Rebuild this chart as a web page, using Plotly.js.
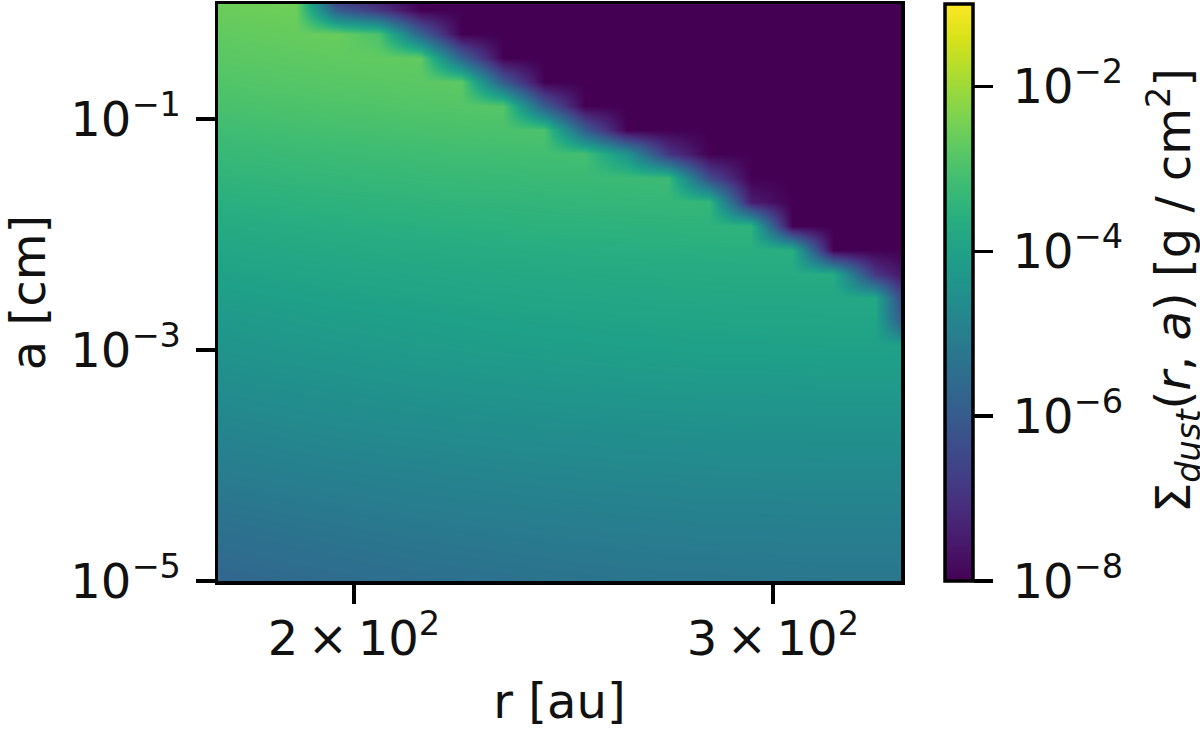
<!DOCTYPE html>
<html><head><meta charset="utf-8">
<script src="https://cdn.plot.ly/plotly-3.0.1.min.js"></script>
<style>html,body{margin:0;padding:0;background:#fff}</style></head>
<body><div id="chart" style="width:1200px;height:731px"></div>
<script>
const radiusAu=[174.5,181.6,189.1,196.8,204.9,213.2,221.8,231.0,240.4,250.1,260.5,271.0,282.0,293.7,305.6,317.9,331.1,344.6];
const grainCm=[8.95e-6,1.445e-5,2.33e-5,3.77e-5,6.08e-5,9.82e-5,1.585e-4,2.56e-4,4.13e-4,6.67e-4,1.076e-3,1.738e-3,2.805e-3,4.53e-3,7.31e-3,1.18e-2,1.905e-2,3.08e-2,4.97e-2,8.02e-2,0.1294,0.209,0.337,0.545,0.879,1.419];
const X=-8; // bottom of the colour range
// log10 of surface density, one row per grain size (small to large)
const logSigma=[
[-5.74,-5.68,-5.63,-5.58,-5.53,-5.49,-5.45,-5.42,-5.39,-5.37,-5.34,-5.33,-5.31,-5.30,-5.29,-5.28,-5.28,-5.28],
[-5.60,-5.55,-5.49,-5.45,-5.40,-5.36,-5.33,-5.30,-5.27,-5.24,-5.22,-5.20,-5.19,-5.18,-5.17,-5.16,-5.16,-5.16],
[-5.47,-5.42,-5.37,-5.32,-5.28,-5.24,-5.21,-5.18,-5.15,-5.13,-5.11,-5.09,-5.08,-5.07,-5.06,-5.05,-5.05,-5.05],
[-5.33,-5.28,-5.23,-5.19,-5.15,-5.11,-5.08,-5.05,-5.03,-5.01,-4.99,-4.97,-4.95,-4.95,-4.94,-4.93,-4.93,-4.93],
[-5.19,-5.14,-5.10,-5.06,-5.02,-4.98,-4.95,-4.93,-4.90,-4.88,-4.86,-4.85,-4.83,-4.83,-4.82,-4.81,-4.81,-4.81],
[-5.05,-5.01,-4.96,-4.92,-4.89,-4.86,-4.83,-4.80,-4.78,-4.76,-4.74,-4.73,-4.71,-4.70,-4.70,-4.69,-4.69,-4.69],
[-4.92,-4.88,-4.83,-4.79,-4.76,-4.73,-4.70,-4.67,-4.65,-4.63,-4.61,-4.60,-4.58,-4.57,-4.57,-4.56,-4.56,-4.56],
[-4.79,-4.75,-4.70,-4.66,-4.62,-4.59,-4.56,-4.53,-4.51,-4.49,-4.47,-4.46,-4.44,-4.43,-4.43,-4.42,-4.42,-4.42],
[-4.66,-4.61,-4.57,-4.53,-4.49,-4.45,-4.42,-4.40,-4.37,-4.35,-4.33,-4.32,-4.30,-4.30,-4.29,-4.28,-4.28,-4.28],
[-4.53,-4.48,-4.44,-4.39,-4.35,-4.32,-4.29,-4.26,-4.24,-4.21,-4.19,-4.18,-4.16,-4.16,-4.15,-4.14,-4.14,-4.14],
[-4.40,-4.35,-4.30,-4.26,-4.22,-4.18,-4.15,-4.12,-4.10,-4.08,-4.06,-4.04,-4.02,-4.02,-4.01,-4.00,-4.00,-4.00],
[-4.27,-4.23,-4.18,-4.14,-4.11,-4.08,-4.05,-4.02,-4.00,-3.98,-3.96,-3.95,-3.93,-3.92,-3.92,-3.91,-3.91,-7.00],
[-4.13,-4.09,-4.05,-4.01,-3.98,-3.95,-3.93,-3.90,-3.88,-3.86,-3.85,-3.83,-3.82,-3.81,-3.81,-3.80,-3.80,X],
[-4.00,-3.96,-3.93,-3.89,-3.86,-3.84,-3.81,-3.79,-3.77,-3.76,-3.74,-3.73,-3.72,-3.71,-3.71,-3.70,-6.90,X],
[-3.86,-3.83,-3.79,-3.76,-3.73,-3.71,-3.69,-3.67,-3.65,-3.63,-3.62,-3.61,-3.60,-3.59,-3.59,X,X,X],
[-3.72,-3.69,-3.66,-3.63,-3.60,-3.58,-3.56,-3.54,-3.52,-3.51,-3.50,-3.49,-3.48,-3.47,X,X,X,X],
[-3.59,-3.56,-3.53,-3.50,-3.48,-3.45,-3.43,-3.42,-3.40,-3.39,-3.37,-3.36,-3.35,-7.45,X,X,X,X],
[-3.45,-3.42,-3.39,-3.36,-3.34,-3.31,-3.29,-3.28,-3.26,-3.25,-3.23,-3.22,-6.40,X,X,X,X,X],
[-3.31,-3.28,-3.25,-3.22,-3.20,-3.17,-3.15,-3.14,-3.12,-3.11,-4.40,-6.90,X,X,X,X,X,X],
[-3.17,-3.14,-3.11,-3.08,-3.06,-3.03,-3.01,-3.00,-2.98,-5.95,X,X,X,X,X,X,X,X],
[-3.03,-3.00,-2.97,-2.94,-2.92,-2.89,-2.87,-2.86,-5.95,X,X,X,X,X,X,X,X,X],
[-2.91,-2.88,-2.85,-2.82,-2.80,-2.77,-2.75,-5.95,X,X,X,X,X,X,X,X,X,X],
[-2.80,-2.77,-2.74,-2.71,-2.69,-2.70,-5.75,X,X,X,X,X,X,X,X,X,X,X],
[-2.70,-2.67,-2.64,-2.60,-3.00,-5.75,X,X,X,X,X,X,X,X,X,X,X,X],
[-2.60,-2.58,-2.56,-5.95,-6.90,X,X,X,X,X,X,X,X,X,X,X,X,X],
[-2.50,-2.48,-2.46,X,X,X,X,X,X,X,X,X,X,X,X,X,X,X]
];
const xTickVals=[200,300];
const xTickText=['2\u2009×\u200910<sup>2</sup>','3\u2009×\u200910<sup>2</sup>'];
const yTickVals=[1e-5,1e-3,1e-1];
const yTickText=['10<sup>−5</sup>','10<sup>−3</sup>','10<sup>−1</sup>'];
const cbTickVals=[-8,-6,-4,-2];
const cbTickText=['\u200910<sup>−8</sup>','\u200910<sup>−6</sup>','\u200910<sup>−4</sup>','\u200910<sup>−2</sup>'];
const FONT='"DejaVu Sans", sans-serif', FS=48, LW=3.5, TL=19;
Plotly.newPlot('chart',[{
  type:'heatmap',x:radiusAu,y:grainCm,z:logSigma,zsmooth:'best',
  colorscale:'Viridis',zmin:-8,zmax:-1,hoverinfo:'skip',
  colorbar:{x:1.0646,xanchor:'left',xpad:0,ypad:0,y:0.5,yanchor:'middle',lenmode:'pixels',len:577,
    thicknessmode:'pixels',thickness:28,outlinewidth:LW,outlinecolor:'#000',
    tickmode:'array',tickvals:cbTickVals,ticktext:cbTickText,ticks:'outside',ticklen:TL,tickwidth:LW,tickcolor:'#000',
    tickfont:{family:FONT,size:FS,color:'#111'}}
}],{
  width:1200,height:731,paper_bgcolor:'#fff',plot_bgcolor:'#fff',
  margin:{l:218,r:299,t:4,b:150,pad:0},
  font:{family:FONT,size:FS,color:'#111'},
  xaxis:{type:'log',range:[2.2439,2.5310],tickmode:'array',tickvals:xTickVals,ticktext:xTickText,ticks:'outside',ticklen:TL,tickwidth:LW,tickcolor:'#000',ticklabelstandoff:-6,
    showline:true,mirror:true,linewidth:LW,linecolor:'#000',showgrid:false,zeroline:false,
    title:{text:'r [au]',font:{family:FONT,size:FS,color:'#111'},standoff:20},automargin:false},
  yaxis:{type:'log',range:[-5,-0.004],tickmode:'array',tickvals:yTickVals,ticktext:yTickText,ticks:'outside',ticklen:TL,tickwidth:LW,tickcolor:'#000',ticklabelstandoff:5,
    showline:true,mirror:true,linewidth:LW,linecolor:'#000',showgrid:false,zeroline:false,
    title:{text:'a [cm]',font:{family:FONT,size:FS,color:'#111'},standoff:20},automargin:false},
  annotations:[{xref:'paper',yref:'paper',x:1.3980,y:0.504,xanchor:'center',yanchor:'middle',textangle:-90,showarrow:false,
    text:'Σ<sub><i>dust</i></sub>(<i>r</i>, <i>a</i>) [g / cm<sup>2</sup>]',font:{family:FONT,size:FS,color:'#111'}}]
},{displayModeBar:false,staticPlot:true});
</script></body></html>
